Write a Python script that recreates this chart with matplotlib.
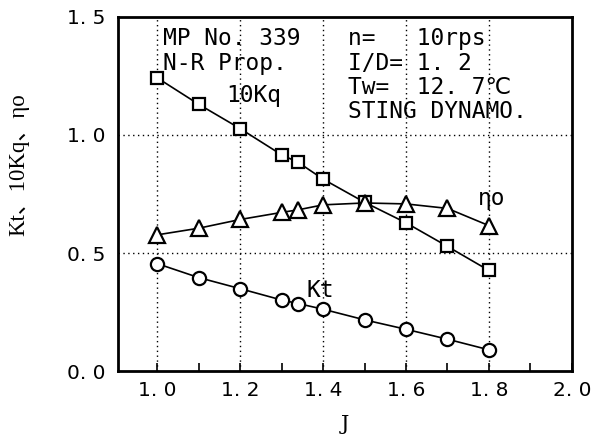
import numpy as np
import matplotlib.pyplot as plt

J = [1.0, 1.1, 1.2, 1.3, 1.34, 1.4, 1.5, 1.6, 1.7, 1.8]
Kt = [0.455, 0.396, 0.349, 0.301, 0.286, 0.262, 0.217, 0.177, 0.135, 0.090]
Kq10 = [1.242, 1.130, 1.027, 0.916, 0.884, 0.813, 0.715, 0.628, 0.528, 0.426]
eta0 = [0.577, 0.605, 0.642, 0.672, 0.683, 0.704, 0.712, 0.708, 0.689, 0.616]

xticks = [1.0, 1.2, 1.4, 1.6, 1.8, 2.0]
yticks = [0.0, 0.5, 1.0, 1.5]

mono = ['DejaVu Sans Mono', 'DejaVu Sans', 'Noto Sans CJK JP']

fig = plt.figure(figsize=(5.92, 4.34), dpi=100)
ax = fig.add_axes([0.199, 0.145, 0.767, 0.816])

# grid
for x in [1.0, 1.2, 1.4, 1.6, 1.8]:
    ax.axvline(x, color='black', lw=1.0, ls=(0, (1, 2.5)), zorder=1)
for y in [0.5, 1.0]:
    ax.axhline(y, color='black', lw=1.0, ls=(0, (1, 2.5)), zorder=1)

style = dict(color='black', lw=1.2, mfc='white', mec='black', mew=1.6, zorder=3)
ax.plot(J, Kq10, marker='s', ms=9, **style)
ax.plot(J, eta0, marker='^', ms=12, **style)
ax.plot(J, Kt, marker='o', ms=9.5, **style)

ax.set_xlim(0.905, 2.0)
ax.set_ylim(0.0, 1.5)

ax.set_xticks(xticks)
ax.set_xticklabels([f"{v:.1f}".replace('.', '. ') for v in xticks], fontsize=14.5)
ax.set_xticks(np.arange(1.1, 2.0, 0.2), minor=True)
ax.set_yticks(yticks)
ax.set_yticklabels([f"{v:.1f}".replace('.', '. ') for v in yticks], fontsize=14.5)
ax.tick_params(axis='x', which='both', direction='in', length=6, width=1.2, pad=7)
ax.tick_params(axis='y', length=0, pad=9)

for s in ax.spines.values():
    s.set_linewidth(2.0)

ax.set_xlabel('J', fontsize=15, family='DejaVu Serif', labelpad=11)
ax.set_ylabel('Kt、10Kq、ηo', fontsize=16.5, family=['Liberation Serif', 'Noto Sans CJK JP'])
ax.yaxis.set_label_coords(-0.196, 0.582)

tk = dict(transform=ax.transAxes, fontsize=16.5, family=mono, va='baseline')
ax.text(0.099, 0.921, 'MP No. 339', **tk)
ax.text(0.099, 0.850, 'N-R Prop.', **tk)
ax.text(0.238, 0.760, '10Kq', **tk)
ax.text(0.507, 0.921, 'n=   10rps', **tk)
ax.text(0.507, 0.850, 'I/D= 1. 2', **tk)
ax.text(0.507, 0.782, 'Tw=  12. 7℃', **tk)
ax.text(0.507, 0.715, 'STING DYNAMO.', **tk)
ax.text(0.793, 0.469, 'ηo', **tk)
ax.text(0.416, 0.210, 'Kt', **tk)

fig.savefig('out.png', dpi=100)
